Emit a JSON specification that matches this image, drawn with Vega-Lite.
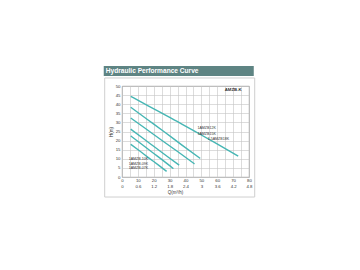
{
  "$schema": "https://vega.github.io/schema/vega-lite/v6.json",
  "autosize": {"type": "none"},
  "padding": {"left": 122, "top": 86, "right": 111, "bottom": 93},
  "width": 127,
  "height": 91,
  "background": "white",
  "config": {
    "view": {"stroke": "#8a8a8a", "strokeWidth": 0.8},
    "font": "Liberation Sans"
  },
  "datasets": {
    "curves": [
      {"model": "1.5AMZB18K", "q": 5.5, "h": 44.3},
      {"model": "1.5AMZB18K", "q": 16.5, "h": 39.1},
      {"model": "1.5AMZB18K", "q": 27.1, "h": 34.1},
      {"model": "1.5AMZB18K", "q": 37.7, "h": 29.1},
      {"model": "1.5AMZB18K", "q": 48.3, "h": 23.9},
      {"model": "1.5AMZB18K", "q": 58.8, "h": 18.7},
      {"model": "1.5AMZB18K", "q": 73.2, "h": 11.5},
      {"model": "1AMZB15K", "q": 5.5, "h": 38.3},
      {"model": "1AMZB15K", "q": 16, "h": 31.6},
      {"model": "1AMZB15K", "q": 27, "h": 24.6},
      {"model": "1AMZB15K", "q": 38, "h": 17.4},
      {"model": "1AMZB15K", "q": 49.3, "h": 10.2},
      {"model": "1AMZB12K", "q": 5.5, "h": 32.4},
      {"model": "1AMZB12K", "q": 15, "h": 26.5},
      {"model": "1AMZB12K", "q": 25, "h": 20.2},
      {"model": "1AMZB12K", "q": 35, "h": 14.0},
      {"model": "1AMZB12K", "q": 45.7, "h": 7.2},
      {"model": "1AMZB10K", "q": 5.5, "h": 26.3},
      {"model": "1AMZB10K", "q": 13, "h": 21.4},
      {"model": "1AMZB10K", "q": 21, "h": 16.2},
      {"model": "1AMZB10K", "q": 29, "h": 11.0},
      {"model": "1AMZB10K", "q": 36, "h": 6.5},
      {"model": "1AMZB09K", "q": 5.5, "h": 22.6},
      {"model": "1AMZB09K", "q": 12, "h": 18.3},
      {"model": "1AMZB09K", "q": 19, "h": 13.6},
      {"model": "1AMZB09K", "q": 26, "h": 9.0},
      {"model": "1AMZB09K", "q": 32.4, "h": 4.6},
      {"model": "1AMZB07K", "q": 5.5, "h": 18.0},
      {"model": "1AMZB07K", "q": 11, "h": 14.4},
      {"model": "1AMZB07K", "q": 17, "h": 10.4},
      {"model": "1AMZB07K", "q": 23, "h": 6.5},
      {"model": "1AMZB07K", "q": 28.1, "h": 3.1}
    ],
    "labels": [
      {"text": "1AMZB12K", "q": 47.5, "h": 27.1},
      {"text": "1AMZB15K", "q": 47.5, "h": 23.8},
      {"text": "1.5AMZB18K", "q": 54, "h": 20.7},
      {"text": "1AMZB-10K", "q": 4.2, "h": 10.1},
      {"text": "1AMZB-09K", "q": 4.2, "h": 7.3},
      {"text": "1AMZB-07K", "q": 4.2, "h": 4.7}
    ],
    "one": [{}]
  },
  "encoding": {
    "x": {
      "type": "quantitative",
      "scale": {"domain": [0, 80], "nice": false, "zero": false},
      "axis": {
        "title": "Q(m³/h)", "titleFontSize": 4.5, "titleFontWeight": "normal", "titleColor": "#333", "titlePadding": 1, "titleX": 53,
        "values": [0, 5, 10, 15, 20, 25, 30, 35, 40, 45, 50, 55, 60, 65, 70, 75, 80],
        "labelExpr": "datum.value % 10 == 0 ? [format(datum.value, 'd'), format(datum.value * 0.06, '.2~f')] : ''",
        "labelFontSize": 4.3, "labelColor": "#333", "labelLineHeight": 5.5, "labelPadding": 1.5, "labelOverlap": false, "labelFlush": false,
        "ticks": false, "domain": false,
        "grid": true, "gridColor": "#c4c4c4", "gridWidth": 0.6
      }
    },
    "y": {
      "type": "quantitative",
      "scale": {"domain": [0, 50], "nice": false, "zero": false},
      "axis": {
        "title": "H(m)", "titleFontSize": 4.5, "titleFontWeight": "normal", "titleColor": "#333", "titlePadding": 1.5,
        "values": [0, 5, 10, 15, 20, 25, 30, 35, 40, 45, 50],
        "labelFontSize": 4.3, "labelColor": "#333", "labelPadding": 2, "labelOverlap": false, "labelFlush": false,
        "ticks": false, "domain": false,
        "grid": true, "gridColor": "#c4c4c4", "gridWidth": 0.6
      }
    }
  },
  "layer": [
    {
      "data": {"name": "curves"},
      "mark": {"type": "line", "color": "#46b6b4", "strokeWidth": 1.4, "interpolate": "monotone"},
      "encoding": {
        "x": {"field": "q"},
        "y": {"field": "h"},
        "detail": {"field": "model"}
      }
    },
    {
      "data": {"name": "one"},
      "mark": {"type": "rect", "fill": "transparent", "stroke": "#cfcfcf", "strokeWidth": 1, "clip": false},
      "encoding": {
        "x": {"datum": -10.9},
        "x2": {"datum": 83.6},
        "y": {"datum": 54.4},
        "y2": {"datum": -11}
      }
    },
    {
      "data": {"name": "one"},
      "mark": {"type": "rect", "fill": "#5e8483", "clip": false},
      "encoding": {
        "x": {"datum": -11.5},
        "x2": {"datum": 83},
        "y": {"datum": 61},
        "y2": {"datum": 55.5}
      }
    },
    {
      "data": {"name": "one"},
      "mark": {"type": "text", "text": "Hydraulic Performance Curve", "align": "left", "baseline": "middle", "fontSize": 6.6, "fontWeight": "bold", "color": "white", "clip": false},
      "encoding": {
        "x": {"datum": -10.2},
        "y": {"datum": 58.3}
      }
    },
    {
      "data": {"name": "labels"},
      "mark": {"type": "text", "align": "left", "baseline": "middle", "fontSize": 3.6, "color": "#333"},
      "encoding": {
        "x": {"field": "q"},
        "y": {"field": "h"},
        "text": {"field": "text"}
      }
    },
    {
      "data": {"name": "one"},
      "mark": {"type": "text", "text": "AMZB-K", "align": "right", "baseline": "middle", "fontSize": 4.3, "fontWeight": "bold", "color": "#333"},
      "encoding": {
        "x": {"datum": 75.4},
        "y": {"datum": 47.6}
      }
    }
  ]
}
